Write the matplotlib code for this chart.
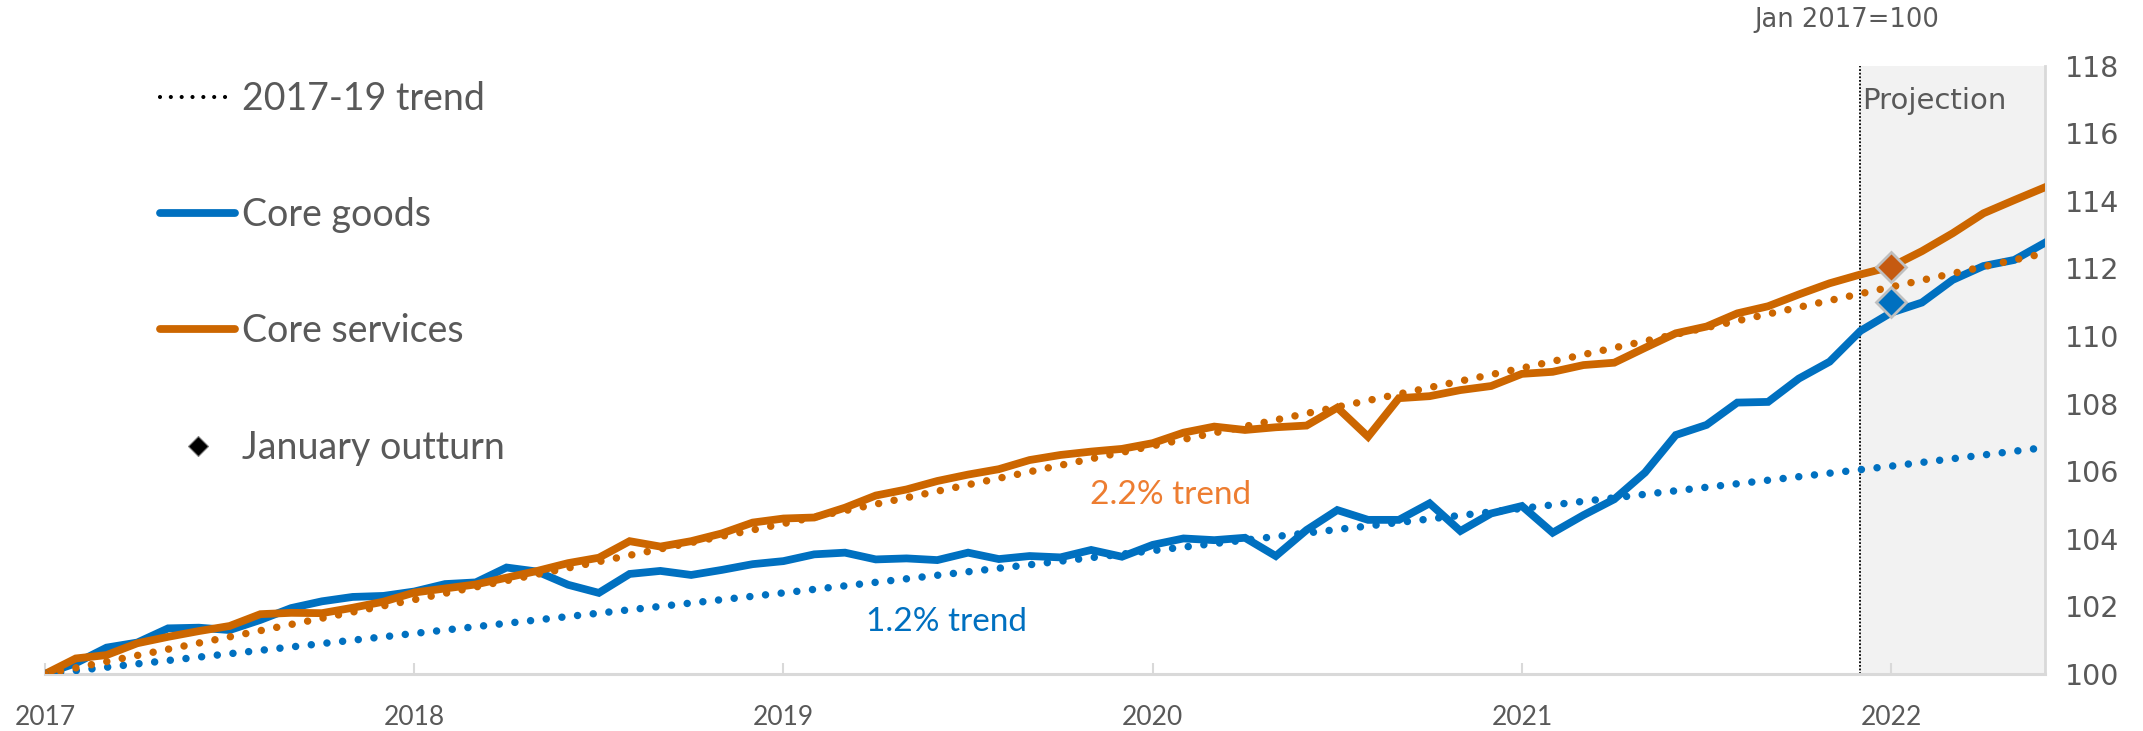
import numpy as np
import matplotlib
matplotlib.use("Agg")
import matplotlib.pyplot as plt
from matplotlib.lines import Line2D

# ---------------- data ----------------
years = ["2017", "2018", "2019", "2020", "2021", "2022"]
year_month_index = [0, 12, 24, 36, 48, 60]

core_goods = [
    100.00, 100.32, 100.78, 100.93, 101.35, 101.37, 101.30, 101.60, 101.95, 102.15, 102.28, 102.31,
    102.44, 102.66, 102.71, 103.15, 103.03, 102.64, 102.40, 102.96, 103.05, 102.93, 103.08, 103.25,
    103.34, 103.54, 103.59, 103.39, 103.42, 103.37, 103.59, 103.40, 103.49, 103.45, 103.67, 103.47,
    103.82, 104.01, 103.96, 104.03, 103.49, 104.26, 104.85, 104.56, 104.56, 105.05, 104.23, 104.75,
    104.97, 104.18, 104.70, 105.17, 105.96, 107.07, 107.37, 108.03, 108.05, 108.74, 109.24, 110.15,
    110.69, 110.99, 111.66, 112.07, 112.25, 112.76,
]
core_services = [
    100.00, 100.46, 100.56, 100.91, 101.10, 101.27, 101.42, 101.77, 101.81, 101.80, 101.96, 102.14,
    102.41, 102.53, 102.65, 102.85, 103.05, 103.28, 103.44, 103.93, 103.77, 103.93, 104.16, 104.48,
    104.60, 104.63, 104.92, 105.28, 105.46, 105.71, 105.90, 106.06, 106.33, 106.48, 106.58, 106.66,
    106.83, 107.14, 107.32, 107.22, 107.30, 107.35, 107.88, 107.02, 108.16, 108.22, 108.40, 108.52,
    108.88, 108.94, 109.14, 109.21, 109.65, 110.08, 110.28, 110.67, 110.88, 111.23, 111.56, 111.82,
    112.05, 112.51, 113.04, 113.63, 114.02, 114.40,
]
months = np.arange(len(core_goods))

trend_months = [0, 12, 24, 36, 48, 60, 65]
services_trend = [100.0, 102.2, 104.45, 106.75, 109.05, 111.45, 112.45]
goods_trend = [100.0, 101.2, 102.4, 103.65, 104.9, 106.15, 106.7]

outturn_month = 60
outturn_goods = 111.0
outturn_services = 112.05

projection_start = 59
projection_end = 65

y_ticks = [100, 102, 104, 106, 108, 110, 112, 114, 116, 118]

# ---------------- style ----------------
BLUE = "#0070C0"
ORANGE = "#CC6600"
ORANGE_DIAMOND = "#C55A11"
ORANGE_LABEL = "#ED7D31"
GREY_TEXT = "#595959"
AXIS_GREY = "#D9D9D9"
NARROW = "Lato"

W, H = 2143, 731
fig = plt.figure(figsize=(W / 100, H / 100), dpi=100)
ax = fig.add_axes([45 / W, 1 - 674 / H, (2045 - 45) / W, (674 - 65.6) / H])

# projection shading
ax.axvspan(projection_start, projection_end, color="#F2F2F2", zorder=0, lw=0)
ax.axvline(projection_start, color="black", lw=1.3, linestyle=(0, (1, 1)), zorder=1)

# solid series
ax.plot(months, core_goods, color=BLUE, lw=5.6, solid_joinstyle="miter", zorder=3)
ax.plot(months, core_services, color=ORANGE, lw=5.6, solid_joinstyle="miter", zorder=4)

# trend lines (round dots)
dot = (0, (0.001, 2.1))
ax.plot(trend_months, goods_trend, color=BLUE, lw=5.4, linestyle=dot,
        dash_capstyle="round", zorder=5)
ax.plot(trend_months, services_trend, color=ORANGE, lw=5.4, linestyle=dot,
        dash_capstyle="round", zorder=5)

# January outturn diamonds
ax.plot([outturn_month], [outturn_services], marker="D", ms=15, mfc=ORANGE_DIAMOND,
        mec="#BFBFBF", mew=2, ls="none", zorder=6)
ax.plot([outturn_month], [outturn_goods], marker="D", ms=15, mfc=BLUE,
        mec="#BFBFBF", mew=2, ls="none", zorder=6)

# axes
ax.set_xlim(0, projection_end)
ax.set_ylim(100, 118)
ax.set_xticks(year_month_index)
ax.set_xticklabels(years, fontfamily=NARROW, fontsize=19, color=GREY_TEXT)
ax.tick_params(axis="x", direction="in", length=8, width=1.5, color=AXIS_GREY, pad=22)
ax.yaxis.tick_right()
ax.set_yticks(y_ticks)
ax.set_yticklabels([str(v) for v in y_ticks], fontfamily="DejaVu Sans", fontsize=20.5,
                   color=GREY_TEXT)
ax.tick_params(axis="y", length=0, pad=14)
for s in ["top", "left"]:
    ax.spines[s].set_visible(False)
ax.spines["bottom"].set_color(AXIS_GREY)
ax.spines["bottom"].set_linewidth(2.2)
ax.spines["right"].set_color(AXIS_GREY)
ax.spines["right"].set_linewidth(2)
ax.set_facecolor("white")

# annotations
ax.text(33.95, 105.3, "2.2% trend", color=ORANGE_LABEL, fontfamily=NARROW, fontsize=24,
        ha="left", va="center")
ax.text(26.67, 101.54, "1.2% trend", color=BLUE, fontfamily=NARROW, fontsize=24,
        ha="left", va="center")
ax.text(59.05, 116.95, "Projection", color=GREY_TEXT, fontfamily="DejaVu Sans", fontsize=21,
        ha="left", va="center")
ax.text(61.55, 119.35, "Jan 2017=100", color=GREY_TEXT, fontfamily="DejaVu Sans", fontsize=18.5,
        ha="right", va="center", clip_on=False)

# legend
handles = [
    Line2D([], [], color="black", lw=3, linestyle=(0, (0.001, 2.6)), dash_capstyle="round"),
    Line2D([], [], color=BLUE, lw=5.6, solid_capstyle="round"),
    Line2D([], [], color=ORANGE, lw=5.6, solid_capstyle="round"),
    Line2D([], [], color="black", marker="D", ms=10, ls="none", mec="#7F7F7F", mew=0.8),
]
labels = ["2017-19 trend", "Core goods", "Core services", "January outturn"]
leg = fig.legend(handles, labels, loc="upper left", bbox_to_anchor=(160 / W, 1 - 81 / H),
                 frameon=False, borderpad=0, borderaxespad=0, handlelength=2.0,
                 handletextpad=0.18, labelspacing=2.14,
                 prop={"family": NARROW, "size": 27})
for t in leg.get_texts():
    t.set_color(GREY_TEXT)

fig.savefig("out.png", dpi=100, facecolor="white")
